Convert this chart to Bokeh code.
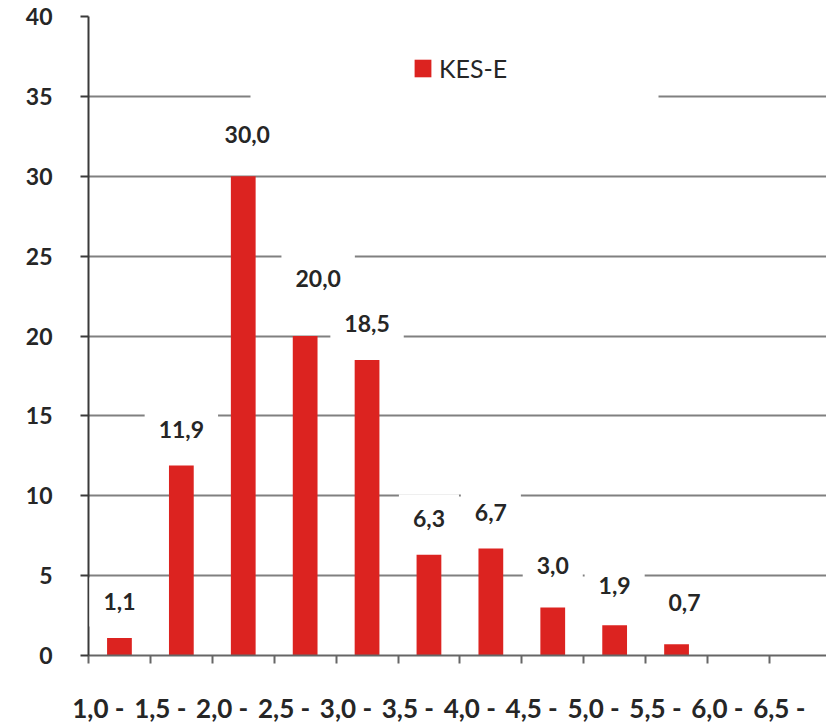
from bokeh.plotting import figure
from bokeh.models import (Range1d, FixedTicker, LinearAxis, Grid, Label, Legend,
                          LegendItem, ColumnDataSource, BoxAnnotation)
from bokeh.embed import file_html
from bokeh.resources import INLINE

# ---- data ----
categories = ["1,0 -", "1,5 -", "2,0 -", "2,5 -", "3,0 -", "3,5 -",
              "4,0 -", "4,5 -", "5,0 -", "5,5 -", "6,0 -", "6,5 -"]
values = [1.1, 11.9, 30.0, 20.0, 18.5, 6.3, 6.7, 3.0, 1.9, 0.7, 0.0, 0.0]
y_ticks = [0, 5, 10, 15, 20, 25, 30, 35, 40]
series_name = "KES-E"

# ---- style ----
FONT = "Lato"
TXT = "#262626"
RED = "#dc2320"
GRID = "#808080"
CAT_PX = 61.9
FRAME_W, FRAME_H = 738, 639
PX_PER_UNIT = FRAME_H / 40.0
label_lift = 36
label_nudge = {2: (4, 6), 3: (13, 22), 7: (0, 6), 8: (0, 4), 9: (8, 6)}

idx = list(range(len(categories)))
centers = [i + 0.5 for i in idx]

p = figure(frame_width=FRAME_W, frame_height=FRAME_H,
           x_range=Range1d(0, FRAME_W / CAT_PX), y_range=Range1d(0, 40),
           output_backend="svg", toolbar_location=None,
           x_axis_location=None, y_axis_location=None,
           min_border_left=88, min_border_top=16, min_border_right=0,
           min_border_bottom=0)
p.outline_line_color = None
p.background_fill_color = "white"
p.border_fill_color = "white"
p.grid.visible = False

src = ColumnDataSource(dict(x=centers, top=values))
bars = p.vbar(x="x", top="top", width=0.4, bottom=0, source=src,
              fill_color=RED, line_color=None)

# y axis
yaxis = LinearAxis(ticker=FixedTicker(ticks=y_ticks))
yaxis.axis_line_color = "#3a3a3a"
yaxis.axis_line_width = 2
yaxis.major_tick_line_color = "#3a3a3a"
yaxis.major_tick_line_width = 2
yaxis.major_tick_out = 8
yaxis.major_tick_in = 0
yaxis.minor_tick_line_color = None
yaxis.major_label_text_font = FONT
yaxis.major_label_text_font_size = "23px"
yaxis.major_label_text_font_style = "bold"
yaxis.major_label_text_color = TXT
yaxis.major_label_standoff = 28
p.add_layout(yaxis, "left")

grid = Grid(dimension=1, ticker=FixedTicker(ticks=y_ticks),
            grid_line_color=GRID, grid_line_width=2)
p.add_layout(grid)

# x axis: tick marks at category boundaries
xaxis = LinearAxis(ticker=FixedTicker(ticks=idx))
xaxis.axis_line_color = "#666666"
xaxis.axis_line_width = 2
xaxis.major_tick_line_color = "#666666"
xaxis.major_tick_line_width = 2
xaxis.major_tick_out = 8
xaxis.major_tick_in = 0
xaxis.minor_tick_line_color = None
xaxis.major_label_overrides = {i: "" for i in idx}
xaxis.major_label_standoff = 0
p.add_layout(xaxis, "below")

# x axis: category labels
lab_pos = [i + 0.16 for i in idx]
xlab = LinearAxis(ticker=FixedTicker(ticks=lab_pos))
xlab.axis_line_color = None
xlab.major_tick_line_color = None
xlab.minor_tick_line_color = None
xlab.major_tick_out = 0
xlab.major_tick_in = 0
xlab.major_label_overrides = {pos: c for pos, c in zip(lab_pos, categories)}
xlab.major_label_text_font = FONT
xlab.major_label_text_font_size = "26px"
xlab.major_label_text_font_style = "bold"
xlab.major_label_text_color = TXT
xlab.major_label_standoff = 28
p.add_layout(xlab, "below")

# value labels
for i, v in zip(idx, values):
    if v <= 0:
        continue
    dx, dy = label_nudge.get(i, (0, 0))
    p.add_layout(Label(x=centers[i], y=v, x_offset=dx, y_offset=label_lift + dy,
                       text=f"{v:.1f}".replace(".", ","),
                       text_font=FONT, text_font_size="23px", text_font_style="bold",
                       text_color=TXT,
                       text_align="center", text_baseline="middle",
                       background_fill_color="white", padding=(14, 16)))

# legend backdrop (white band that interrupts the 35 gridline), from screen px
bx0, bx1, by0, by1 = 250, 658, 45, 104
p.add_layout(BoxAnnotation(left=(bx0 - 88) / CAT_PX, right=(bx1 - 88) / CAT_PX,
                           top=(655 - by0) / PX_PER_UNIT, bottom=(655 - by1) / PX_PER_UNIT,
                           fill_color="white", fill_alpha=1.0, line_color=None))

legend = Legend(items=[LegendItem(label=series_name, renderers=[bars])],
                location=(324, 572), background_fill_color="white",
                border_line_color=None, padding=4, spacing=0,
                label_text_font=FONT, label_text_font_size="25px",
                label_text_color=TXT, glyph_width=21, glyph_height=22,
                label_standoff=6)
p.add_layout(legend)

open("out.html", "w").write(file_html(p, INLINE))
